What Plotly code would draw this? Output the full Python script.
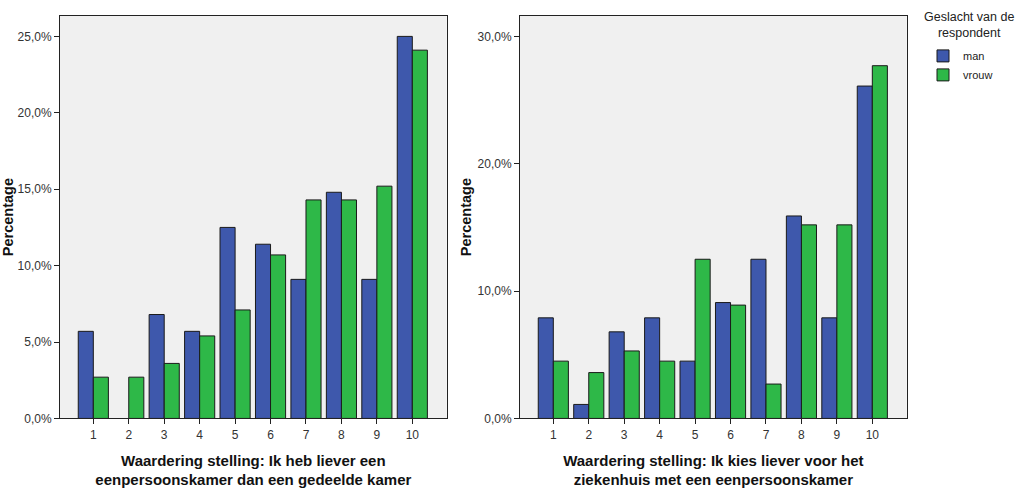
import plotly.graph_objects as go

categories = [1, 2, 3, 4, 5, 6, 7, 8, 9, 10]
tick_labels = ["1", "2", "3", "4", "5", "6", "7", "8", "9", "10"]

left_man = [5.7, 0.0, 6.8, 5.7, 12.5, 11.4, 9.1, 14.8, 9.1, 25.0]
left_vrouw = [2.7, 2.7, 3.6, 5.4, 7.1, 10.7, 14.3, 14.3, 15.2, 24.1]

right_man = [7.9, 1.1, 6.8, 7.9, 4.5, 9.1, 12.5, 15.9, 7.9, 26.1]
right_vrouw = [4.5, 3.6, 5.3, 4.5, 12.5, 8.9, 2.7, 15.2, 15.2, 27.7]

series_names = ["man", "vrouw"]
colors = ["#3E58AC", "#2EB848"]

left_xtitle = "Waardering stelling: Ik heb liever een<br>eenpersoonskamer dan een gedeelde kamer"
right_xtitle = "Waardering stelling: Ik kies liever voor het<br>ziekenhuis met een eenpersoonskamer"
ytitle = "Percentage"
legend_title = "Geslacht van de<br>respondent"

FONT = "Arial, Liberation Sans, sans-serif"
W, H = 1024, 490

fig = go.Figure()
for vals, xa, ya, show in [((left_man, left_vrouw), "x", "y", True),
                           ((right_man, right_vrouw), "x2", "y2", False)]:
    for name, v, c in zip(series_names, vals, colors):
        fig.add_trace(go.Bar(
            x=categories, y=[val if val > 0 else None for val in v],
            name=name, xaxis=xa, yaxis=ya,
            marker=dict(color=c, line=dict(color="#1a1a1a", width=1)),
            legendgroup=name, showlegend=show,
        ))

def px_x(a, b):
    return [a / W, b / W]

ydom = [1 - 424.5 / H, 1 - 16 / H]

axis_common = dict(
    showline=True, mirror=True, linecolor="#222222", linewidth=1,
    ticks="outside", ticklen=5, tickcolor="#222222",
    showgrid=False, zeroline=False,
    tickfont=dict(family=FONT, size=12, color="#333333"),
)
xtitle_font = dict(family=FONT, size=15, color="#111111", weight="bold")
ytitle_font = dict(family=FONT, size=14.5, color="#111111", weight="bold")

fig.update_layout(
    width=W, height=H,
    margin=dict(l=0, r=0, t=0, b=0),
    paper_bgcolor="white",
    plot_bgcolor="#F0F0F0",
    separators=",.",
    barmode="group",
    bargap=0.15,
    bargroupgap=0.0,
    font=dict(family=FONT, size=11, color="#222222"),
    xaxis=dict(domain=px_x(60, 446.7), range=[0.06, 10.97], anchor="y",
               tickmode="array", tickvals=categories, ticktext=tick_labels,
               title=dict(text=left_xtitle, standoff=14, font=xtitle_font),
               **axis_common),
    yaxis=dict(domain=ydom, range=[0, 26.35], anchor="x", dtick=5,
               tickformat=".1f", ticksuffix="%",
               title=dict(text=ytitle, standoff=2, font=ytitle_font),
               **axis_common),
    xaxis2=dict(domain=px_x(520, 906.7), range=[0.06, 10.97], anchor="y2",
                tickmode="array", tickvals=categories, ticktext=tick_labels,
                title=dict(text=right_xtitle, standoff=14, font=xtitle_font),
                **axis_common),
    yaxis2=dict(domain=ydom, range=[0, 31.62], anchor="x2", dtick=10,
                tickformat=".1f", ticksuffix="%",
                title=dict(text=ytitle, standoff=2, font=ytitle_font),
                **axis_common),
    legend=dict(
        x=923 / W, y=1 - 42 / H, xanchor="left", yanchor="top",
        font=dict(family=FONT, size=11, color="#222222"),
        bgcolor="rgba(0,0,0,0)",
        itemwidth=30, tracegroupgap=0,
        traceorder="normal",
    ),
    annotations=[dict(
        text=legend_title, x=969 / W, y=1 - 25 / H, xref="paper", yref="paper",
        xanchor="center", yanchor="middle", showarrow=False, align="center",
        font=dict(family=FONT, size=12.5, color="#222222"),
    )],
)

fig.write_html("out.html")
